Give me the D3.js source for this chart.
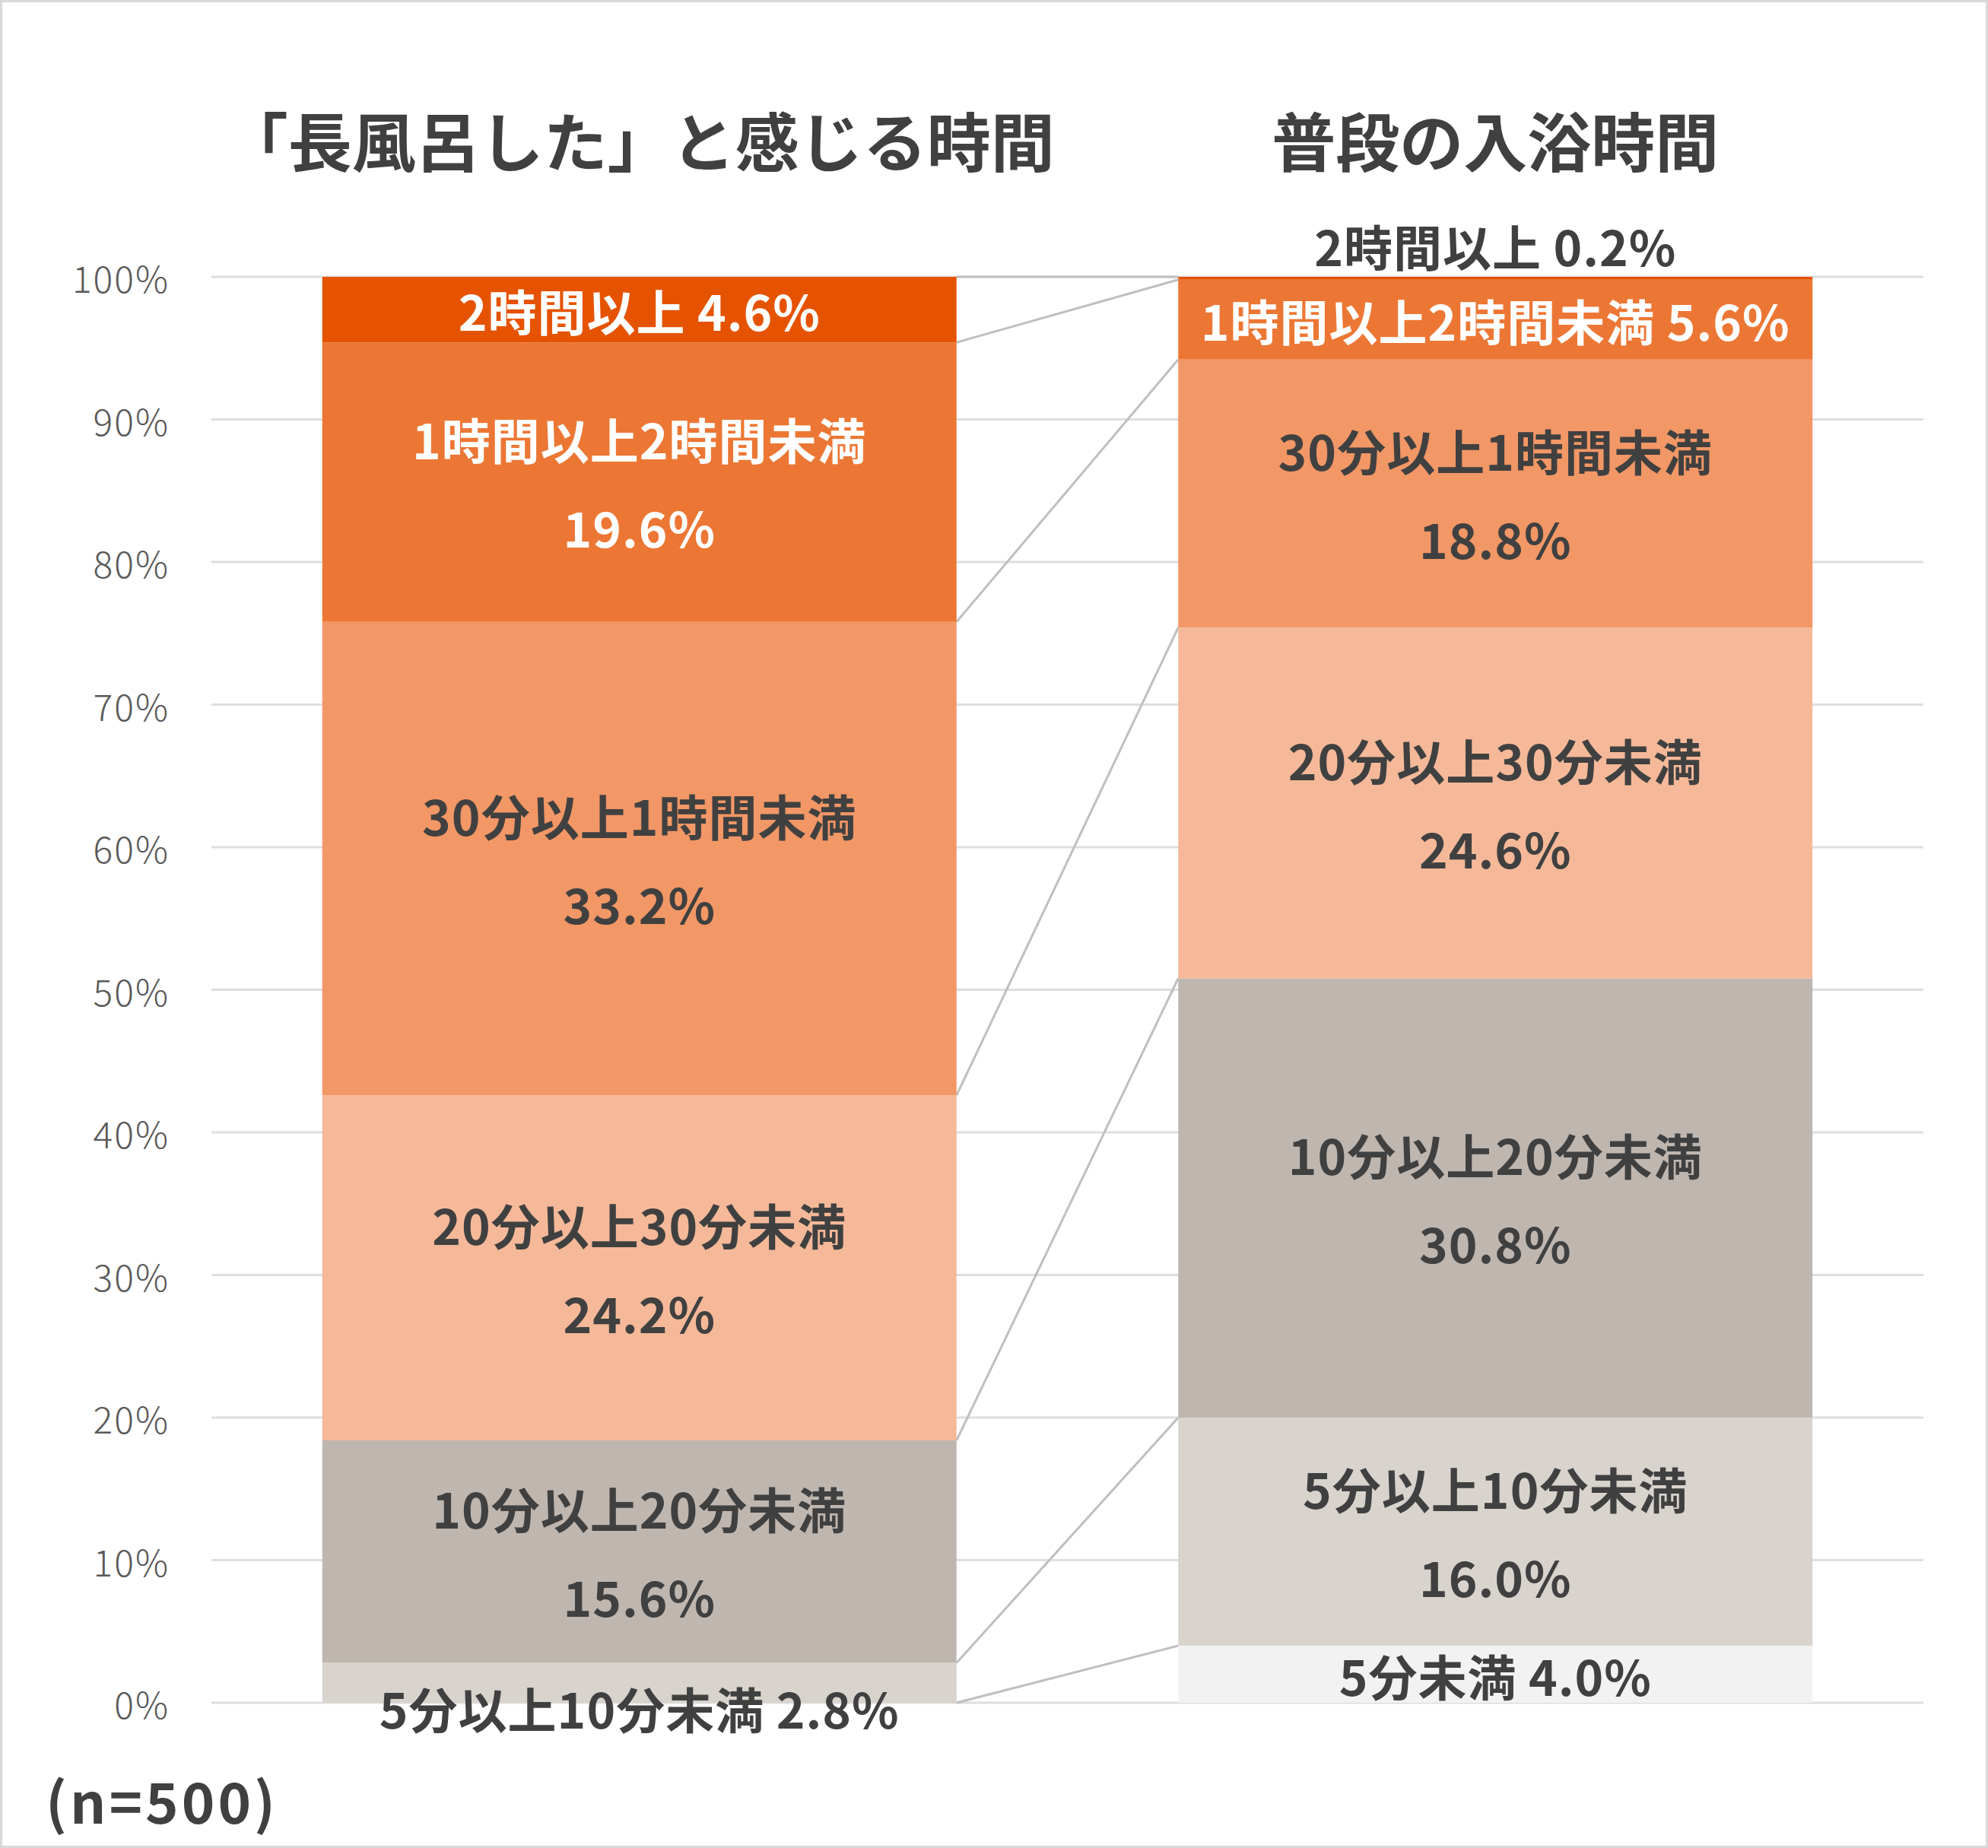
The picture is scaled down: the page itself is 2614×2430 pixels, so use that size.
<!DOCTYPE html>
<html>
<head>
<meta charset="utf-8">
<script src="https://cdn.jsdelivr.net/npm/d3@7"></script>
<style>
  body { margin: 0; background: #fff; }
  svg text { font-family: "Noto Sans CJK JP", "Noto Sans", sans-serif; }
</style>
</head>
<body>
<svg id="chart"></svg>
<script>
// data van de grafiek
const barNames = ["「長風呂した」と感じる時間", "普段の入浴時間"];
const categories = ["5分未満", "5分以上10分未満", "10分以上20分未満", "20分以上30分未満", "30分以上1時間未満", "1時間以上2時間未満", "2時間以上"];
const longBath = [0, 2.8, 15.6, 24.2, 33.2, 19.6, 4.6];
const usualBath = [4.0, 16.0, 30.8, 24.6, 18.8, 5.6, 0.2];
const yTicks = [0, 10, 20, 30, 40, 50, 60, 70, 80, 90, 100];
const sampleNote = "(n=500)";

const colors = ["#f2f2f2", "#d8d3cd", "#bfb6b0", "#f5b999", "#f29766", "#ec7735", "#e55300"];
const whiteText = ["1時間以上2時間未満", "2時間以上"];

const W = 2614, H = 2430;
const textDark = "#404040";

const svg = d3.select("#chart")
  .attr("width", W)
  .attr("height", H);

// rand om de hele afbeelding
svg.append("rect")
  .attr("x", 1.5).attr("y", 1.5)
  .attr("width", W - 3).attr("height", H - 3)
  .attr("fill", "#fff")
  .attr("stroke", "#d9d9d9")
  .attr("stroke-width", 3);

const xScale = d3.scaleBand()
  .domain(barNames)
  .range([278, 2529])
  .paddingInner(0.259)
  .paddingOuter(0.1295);

const yScale = d3.scaleLinear()
  .domain([0, 100])
  .range([2239, 364]);

// rijen maken voor d3.stack
const rows = barNames.map((name, j) => {
  const row = { name: name };
  const vals = j === 0 ? longBath : usualBath;
  categories.forEach((c, i) => row[c] = vals[i]);
  return row;
});
const stacked = d3.stack().keys(categories)(rows);

// GRIDLINES
svg.append("g")
  .selectAll("line")
  .data(yTicks)
  .join("line")
  .attr("x1", 278)
  .attr("x2", 2529)
  .attr("y1", d => yScale(d))
  .attr("y2", d => yScale(d))
  .attr("stroke", "#dedede")
  .attr("stroke-width", 3);

// Y AS LABELS
svg.append("g")
  .selectAll("text")
  .data(yTicks)
  .join("text")
  .attr("x", 223)
  .attr("y", d => yScale(d))
  .attr("text-anchor", "end")
  .attr("dominant-baseline", "central")
  .attr("font-size", "48px")
  .attr("font-weight", 300)
  .attr("letter-spacing", "2px")
  .attr("fill", "#595959")
  .text(d => d + "%");

// TITELS
svg.append("g")
  .selectAll("text")
  .data(barNames)
  .join("text")
  .attr("x", d => xScale(d) + xScale.bandwidth() / 2)
  .attr("y", 219)
  .attr("text-anchor", "middle")
  .attr("font-size", "84px")
  .attr("font-weight", 700)
  .attr("fill", textDark)
  .text(d => d);

// VERBINDINGSLIJNEN tussen de twee balken
const leftEdge = xScale(barNames[0]) + xScale.bandwidth();
const rightEdge = xScale(barNames[1]);
svg.append("g")
  .selectAll("line")
  .data(stacked)
  .join("line")
  .attr("x1", leftEdge)
  .attr("x2", rightEdge)
  .attr("y1", s => yScale(s[0][1]))
  .attr("y2", s => yScale(s[1][1]))
  .attr("stroke", "#bfbfbf")
  .attr("stroke-width", 3);

// BARS
svg.append("g")
  .selectAll("g")
  .data(stacked)
  .join("g")
  .attr("fill", (s, i) => colors[i])
  .selectAll("rect")
  .data(s => s)
  .join("rect")
  .attr("x", d => xScale(d.data.name))
  .attr("width", xScale.bandwidth())
  .attr("y", d => yScale(d[1]))
  .attr("height", d => yScale(d[0]) - yScale(d[1]));

// LABELS IN DE BARS
const labels = [];
stacked.forEach((s, i) => {
  s.forEach(d => {
    const v = d[1] - d[0];
    if (v <= 0) return;
    const top = yScale(d[1]), bottom = yScale(d[0]);
    const h = bottom - top;
    const cx = xScale(d.data.name) + xScale.bandwidth() / 2;
    const cat = categories[i];
    const pct = v.toFixed(1) + "%";
    let color = whiteText.includes(cat) ? "#fff" : textDark;
    if (h >= 180) {
      // twee regels: naam en percentage
      labels.push({ x: cx, y: (top + bottom) / 2 - 58, t: cat, c: color });
      labels.push({ x: cx, y: (top + bottom) / 2 + 58, t: pct, c: color });
    } else if (h >= 56) {
      labels.push({ x: cx, y: (top + bottom) / 2, t: cat + " " + pct, c: color });
    } else if (d[1] >= 100) {
      // te klein, boven de balk zetten
      labels.push({ x: cx, y: top - 42, t: cat + " " + pct, c: textDark });
    } else {
      labels.push({ x: cx, y: bottom + 6, t: cat + " " + pct, c: textDark });
    }
  });
});

svg.append("g")
  .selectAll("text")
  .data(labels)
  .join("text")
  .attr("x", d => d.x)
  .attr("y", d => d.y)
  .attr("text-anchor", "middle")
  .attr("dominant-baseline", "central")
  .attr("font-size", "64px")
  .attr("font-weight", 700)
  .attr("letter-spacing", "1px")
  .attr("fill", d => d.c)
  .text(d => d.t);

// n=500
svg.append("text")
  .attr("x", 60)
  .attr("y", 2398)
  .attr("font-size", "74px")
  .attr("font-weight", 700)
  .attr("letter-spacing", "4px")
  .attr("fill", textDark)
  .text(sampleNote);
</script>
</body>
</html>
